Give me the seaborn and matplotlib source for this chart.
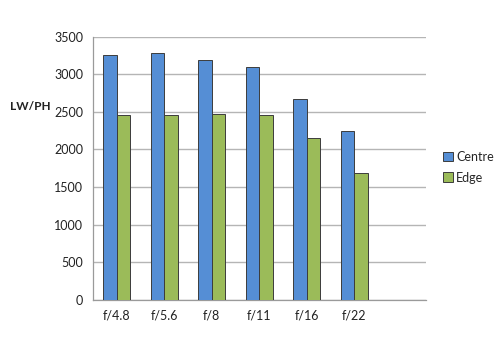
import matplotlib
matplotlib.use("Agg")
import matplotlib.pyplot as plt
import seaborn as sns
import pandas as pd
import numpy as np
from matplotlib.patches import Patch

categories = ["f/4.8", "f/5.6", "f/8", "f/11", "f/16", "f/22"]
centre = [3260, 3283, 3190, 3101, 2671, 2241]
edge = [2454, 2455, 2467, 2454, 2156, 1682]
series = ["Centre", "Edge"]
colors = ["#558ED5", "#9BBB59"]

df = pd.DataFrame({
    "aperture": categories * 2,
    "value": centre + edge,
    "series": [series[0]] * len(categories) + [series[1]] * len(categories),
})

sns.set_style("white")
plt.rcParams['font.family'] = ['Lato', 'DejaVu Sans']

fig = plt.figure(figsize=(5, 3.39), dpi=100)
ax = fig.add_axes([0.186, 0.116, 0.665, 0.776])

sns.barplot(data=df, x="aperture", y="value", hue="series", order=categories,
            hue_order=series, palette=colors, saturation=1, width=0.56, ax=ax,
            edgecolor="#3c3c3c", linewidth=0.7, legend=False, zorder=3)

ax.set_xlim(-0.5, 6.5)
ax.set_ylim(0, 3500)
ax.set_yticks(np.arange(0, 3501, 500))
ax.yaxis.grid(True, color="#b5b5b5", linewidth=1, zorder=0)
ax.set_axisbelow(True)

# Excel-like category ticks at boundaries
ax.set_xticks(np.arange(-0.5, 7, 1.0))
ax.set_xticklabels([])
ax.set_xticks(np.arange(len(categories)), minor=True)
ax.set_xticklabels(categories, minor=True)
ax.tick_params(axis="x", which="major", length=4, width=0.8, color="#9a9a9a", direction="out")
ax.tick_params(axis="x", which="minor", length=0, pad=7, labelsize=9, labelcolor="#222222")
ax.tick_params(axis="y", length=4, width=0.8, color="#9a9a9a", direction="out",
               labelsize=9, labelcolor="#222222", pad=3)

for s in ["top", "right"]:
    ax.spines[s].set_visible(False)
for s in ["left", "bottom"]:
    ax.spines[s].set_color("#9a9a9a")
    ax.spines[s].set_linewidth(0.9)

ax.set_xlabel("")
ax.set_ylabel("")
fig.text(0.02, 0.685, "LW/PH", fontsize=8.5, fontweight="bold", color="#222222",
         ha="left", va="center")

handles = [Patch(facecolor=c, edgecolor="#3c3c3c", linewidth=0.7) for c in colors]
fig.legend(handles, series, loc="upper left", bbox_to_anchor=(0.885, 0.555),
           frameon=False, fontsize=9, handlelength=0.8, handleheight=0.8,
           handletextpad=0.3, labelspacing=0.7, borderaxespad=0, borderpad=0)

fig.savefig("out.png", dpi=100, facecolor="white")
